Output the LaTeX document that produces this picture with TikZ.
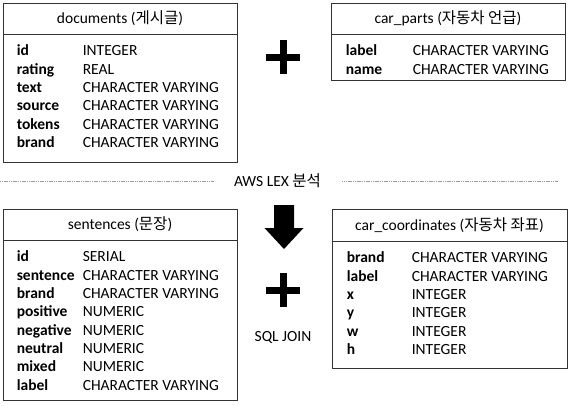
\documentclass[tikz,border=0pt]{standalone}
\usepackage{fontspec}
\setmainfont{Carlito}
\newfontfamily\kr{Noto Sans CJK KR}
\usepackage{tikz}
\usetikzlibrary{positioning}

\begin{document}
\begin{tikzpicture}[
    tblhead/.style={rectangle, draw=black!80, line width=0.8pt, minimum width=234pt,
        minimum height=31pt, inner sep=0pt, font=\fontsize{15.5}{18.5}\selectfont},
    tblbody/.style={rectangle, draw=black!80, line width=0.8pt, minimum width=234pt,
        inner sep=0pt, below=0pt of #1},
    tblrows/.style={inner sep=0pt, align=left, font=\fontsize{15.5}{18.3}\selectfont},
    plusline/.style={line width=7pt, black},
    sepline/.style={gray!80, line width=0.6pt, dash pattern=on 1.2pt off 0.6pt},
]
\useasboundingbox (0,0) rectangle (570pt,-405pt);

% ══════════════════════════════════════════════
% TOP: documents + car_parts
% ══════════════════════════════════════════════
\node[tblhead] (docs) at (120pt,-18.5pt) {documents ({\kr 게시글})};
\node[tblbody=docs, minimum height=128pt] (docsbody) {};
\node[tblrows, below right=8.5pt and 14pt of docs.south west] (docsrows) {%
    \begin{tabular}{@{}p{66pt}@{}l@{}}
    \textbf{id} & INTEGER\\
    \textbf{rating} & REAL\\
    \textbf{text} & CHARACTER VARYING\\
    \textbf{source} & CHARACTER VARYING\\
    \textbf{tokens} & CHARACTER VARYING\\
    \textbf{brand} & CHARACTER VARYING
    \end{tabular}};

\node[tblhead] (parts) at (448pt,-18.5pt) {car\_parts ({\kr 자동차 언급})};
\node[tblbody=parts, minimum height=46pt] (partsbody) {};
\node[tblrows, below right=8.5pt and 15pt of parts.south west] (partsrows) {%
    \begin{tabular}{@{}p{67pt}@{}l@{}}
    \textbf{label} & CHARACTER VARYING\\
    \textbf{name} & CHARACTER VARYING
    \end{tabular}};

% ── plus between the two ──
\coordinate (plustop) at (283pt,-57pt);
\draw[plusline] ([xshift=-17pt]plustop) -- ([xshift=17pt]plustop)
    ([yshift=-17pt]plustop) -- ([yshift=17pt]plustop);

% ══════════════════════════════════════════════
% Separator: AWS LEX
% ══════════════════════════════════════════════
\node[inner sep=0pt, font=\fontsize{15.5}{18}\selectfont] (lex) at (277.5pt,-181pt) {AWS LEX {\kr 분석}};
\coordinate (sepL) at (0pt,-181pt);
\coordinate (sepR) at (558pt,-181pt);
\draw[sepline] (sepL) -- ([xshift=-20pt]lex.west);
\draw[sepline] ([xshift=21pt]lex.east) -- (sepR);

% ── down arrow ──
\coordinate (arrtop) at (284pt,-205pt);
\fill[black] ([xshift=-10pt]arrtop) -- ++(0,-23pt) -- ++(-9.5pt,0) -- ([yshift=-44pt]arrtop)
    -- ++(19.5pt,21pt) -- ++(-9.5pt,0) -- ([xshift=10pt]arrtop) -- cycle;

% ══════════════════════════════════════════════
% BOTTOM: sentences + car_coordinates
% ══════════════════════════════════════════════
\node[tblhead] (sent) at (120pt,-224.5pt) {sentences ({\kr 문장})};
\node[tblbody=sent, minimum height=160pt] (sentbody) {};
\node[tblrows, below right=8.5pt and 14pt of sent.south west] (sentrows) {%
    \begin{tabular}{@{}p{66pt}@{}l@{}}
    \textbf{id} & SERIAL\\
    \textbf{sentence} & CHARACTER VARYING\\
    \textbf{brand} & CHARACTER VARYING\\
    \textbf{positive} & NUMERIC\\
    \textbf{negative} & NUMERIC\\
    \textbf{neutral} & NUMERIC\\
    \textbf{mixed} & NUMERIC\\
    \textbf{label} & CHARACTER VARYING
    \end{tabular}};

\node[tblhead, minimum width=235pt, minimum height=32pt] (coord) at (449.5pt,-225pt) {car\_coordinates ({\kr 자동차 좌표})};
\node[tblbody=coord, minimum width=235pt, minimum height=127pt] (coordbody) {};
\node[tblrows, below right=8.5pt and 15pt of coord.south west] (coordrows) {%
    \begin{tabular}{@{}p{65pt}@{}l@{}}
    \textbf{brand} & CHARACTER VARYING\\
    \textbf{label} & CHARACTER VARYING\\
    \textbf{x} & INTEGER\\
    \textbf{y} & INTEGER\\
    \textbf{w} & INTEGER\\
    \textbf{h} & INTEGER
    \end{tabular}};

% ── plus + SQL JOIN ──
\coordinate (plusjoin) at (283pt,-290pt);
\draw[plusline] ([xshift=-17pt]plusjoin) -- ([xshift=17pt]plusjoin)
    ([yshift=-17pt]plusjoin) -- ([yshift=17pt]plusjoin);
\node[inner sep=0pt, font=\fontsize{15.5}{18}\selectfont] (join) at (283pt,-337pt) {SQL JOIN};

\end{tikzpicture}
\end{document}
